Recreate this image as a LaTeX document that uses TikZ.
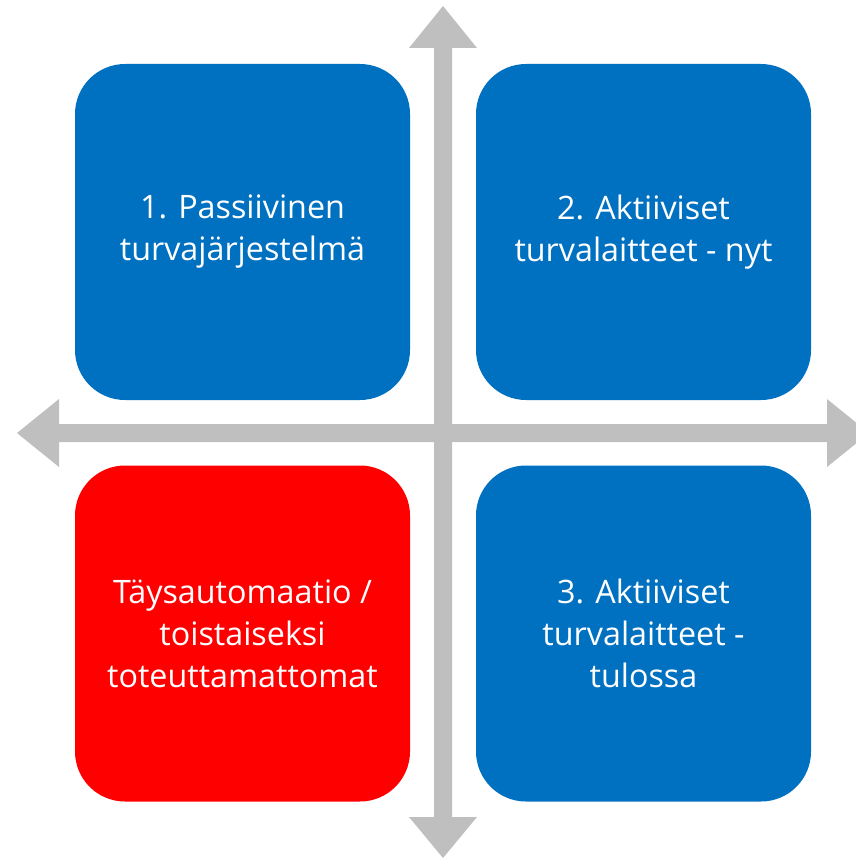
\documentclass[tikz,border=0pt]{standalone}
\usepackage{fontspec}
\setmainfont{Open Sans}
\definecolor{qblue}{HTML}{0070C0}
\definecolor{qred}{HTML}{FF0000}
\definecolor{qgray}{HTML}{BFBFBF}
\begin{document}
\begin{tikzpicture}[x=1pt,y=-1pt,
  quad/.style={rounded corners=50pt, minimum width=335pt, minimum height=336pt,
    inner sep=0pt, align=center, text=white,
    font=\fontsize{32.3}{42}\selectfont},
  axis/.style={fill=qgray, draw=none}]
\useasboundingbox (0,0) rectangle (856,859);
\begin{scope}
\clip (0,0) rectangle (856,859);
% vertical double arrow
\fill[axis] (443,6) -- (477,48) -- (452,48) -- (452,817) -- (477,817) -- (443,858)
  -- (409,817) -- (434,817) -- (434,48) -- (409,48) -- cycle;
% horizontal double arrow
\fill[axis] (17,433) -- (59,399) -- (59,424) -- (827,424) -- (827,399) -- (869,433)
  -- (827,467) -- (827,442) -- (59,442) -- (59,467) -- cycle;
\end{scope}
\node[quad, fill=qblue] (q1) at (242.5,232) {1. Passiivinen\\turvajärjestelmä};
\node[quad, fill=qblue] (q2) at (643.5,232) {2. Aktiiviset\\turvalaitteet - nyt};
\node[quad, fill=qred] (q4) at (242.5,633.5) {Täysautomaatio /\\toistaiseksi\\toteuttamattomat};
\node[quad, fill=qblue] (q3) at (643.5,633.5) {3. Aktiiviset\\turvalaitteet -\\tulossa};
\end{tikzpicture}
\end{document}
